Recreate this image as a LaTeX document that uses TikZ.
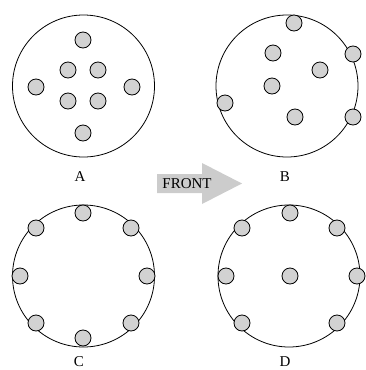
\documentclass[tikz,border=0pt]{standalone}
\usepackage{fontspec}
\setmainfont{Liberation Serif}
\usepackage{tikz}
\usetikzlibrary{positioning}

\begin{document}
\begin{tikzpicture}[x=1pt, y=-1pt,
  plate/.style={draw, circle, minimum size=142pt, inner sep=0pt, line width=0.8pt},
  hole/.style={draw, circle, minimum size=16pt, inner sep=0pt, fill=gray!35, line width=0.8pt},
  tag/.style={font=\fontsize{15}{18}\selectfont, inner sep=0pt}]
\useasboundingbox (0,0) rectangle (365,370);

% Plates
\node[plate] (plateA) at (83.5,86) {};
\node[plate] (plateB) at (287,86) {};
\node[plate] (plateC) at (83.5,276) {};
\node[plate] (plateD) at (289,276) {};

% Holes of plate A
\foreach \x/\y [count=\i] in {83/40, 68/70, 98/70, 36/87, 132/87, 68/101, 98/101, 83/133} {
   \node[hole] (a\i) at (\x,\y) {};
}

% Holes of plate B
\foreach \x/\y [count=\i] in {294/23, 273/53, 353/54, 320/70, 272/86, 225/103, 295/117, 353/117} {
   \node[hole] (b\i) at (\x,\y) {};
}

% Holes of plate C
\foreach \x/\y [count=\i] in {83/213, 36/228, 131/228, 20/276, 147/276, 36/323, 131/323, 83/338} {
   \node[hole] (c\i) at (\x,\y) {};
}

% Holes of plate D
\foreach \x/\y [count=\i] in {290/213, 242/228, 337/228, 226/276, 290/276, 357/276, 242/323, 337/323} {
   \node[hole] (d\i) at (\x,\y) {};
}

% Labels
\node[tag] (labelA) at (80,177) {A};
\node[tag] (labelB) at (285,177) {B};
\node[tag] (labelC) at (79,362) {C};
\node[tag] (labelD) at (285,362) {D};

% Front arrow
\fill[gray!40] (157,174) -- (202,174) -- (202,163) -- (242,183.5) -- (202,204) -- (202,193) -- (157,193) -- cycle;
\node[tag] (front) at (187,183.5) {FRONT};
\end{tikzpicture}
\end{document}
